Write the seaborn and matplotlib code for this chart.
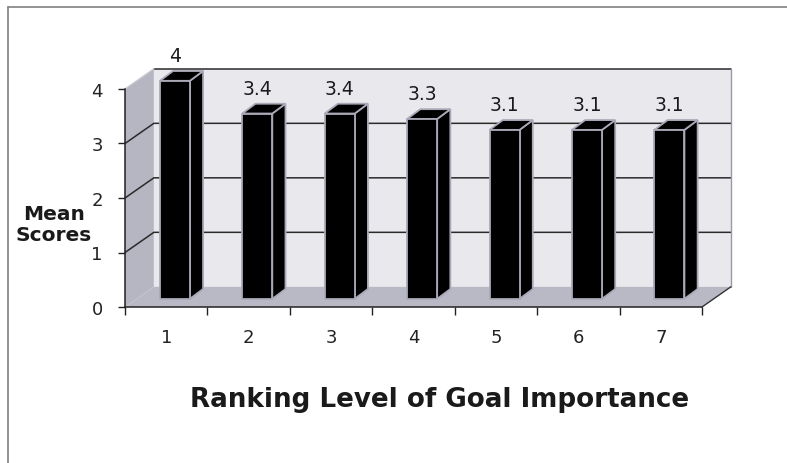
import matplotlib
matplotlib.use("Agg")
import matplotlib.pyplot as plt
import seaborn as sns
import pandas as pd
from matplotlib.patches import Polygon
from matplotlib.lines import Line2D

# chart data
levels = ["1", "2", "3", "4", "5", "6", "7"]
mean_scores = [4, 3.4, 3.4, 3.3, 3.1, 3.1, 3.1]
y_ticks = [0, 1, 2, 3, 4]

# fake 3d geometry (data units)
wall_dx, wall_dy = 0.35, 0.37      # back wall offset
bar_dx, bar_base = 0.105, 0.15     # bar front face shift
depth_dx, depth_dy = 0.16, 0.18    # bar depth

sns.set_style("white")
plt.rcParams["font.family"] = ["DejaVu Sans"]

fig = plt.figure(figsize=(7.87, 4.64), dpi=100)
ax = fig.add_axes([125 / 787, 156 / 464, 577 / 787, 218 / 464])

df = pd.DataFrame({"level": levels, "score": mean_scores})
sns.barplot(data=df, x="level", y="score", color="black", saturation=1,
            width=0.364, edgecolor="#a9a9b8", linewidth=1.3, zorder=3, ax=ax)
bars = list(ax.patches)

x0, x1 = -0.5, len(levels) - 0.5
top = max(y_ticks)
ax.set_xlim(x0, x1)
ax.set_ylim(0, top)

# walls and floor
ax.add_patch(Polygon([(x0, 0), (x0, top), (x0 + wall_dx, top + wall_dy), (x0 + wall_dx, wall_dy)],
                     closed=True, fc="#b6b6c2", ec="none", zorder=0, clip_on=False))
ax.add_patch(Polygon([(x0 + wall_dx, wall_dy), (x0 + wall_dx, top + wall_dy),
                      (x1 + wall_dx, top + wall_dy), (x1 + wall_dx, wall_dy)],
                     closed=True, fc="#e9e9ed", ec="none", zorder=0, clip_on=False))
ax.add_patch(Polygon([(x0, 0), (x1, 0), (x1 + wall_dx, wall_dy), (x0 + wall_dx, wall_dy)],
                     closed=True, fc="#b9b9c6", ec="none", zorder=0.5, clip_on=False))

# gridlines on walls
for t in y_ticks[1:-1]:
    ax.plot([x0, x0 + wall_dx, x1 + wall_dx], [t, t + wall_dy, t + wall_dy],
            color="#2a2a2a", lw=1.1, zorder=1, clip_on=False)
ax.plot([x0 + wall_dx, x1 + wall_dx], [top + wall_dy, top + wall_dy],
        color="#2a2a2a", lw=1.1, zorder=1, clip_on=False)
ax.plot([x0, x0 + wall_dx], [top, top + wall_dy], color="#c8c8d2", lw=1.0, zorder=1, clip_on=False)
ax.plot([x1 + wall_dx, x1 + wall_dx], [wall_dy, top + wall_dy], color="#9a9aa6",
        lw=1.0, zorder=1, clip_on=False)
ax.plot([x1, x1 + wall_dx], [0, wall_dy], color="#333333", lw=1.0, zorder=1, clip_on=False)

# move bars into the middle of the depth and add side / top faces
for p, v in zip(bars, mean_scores):
    p.set_x(p.get_x() + bar_dx)
    p.set_y(bar_base)
    p.set_clip_on(False)
    bx, bw, by, bh = p.get_x(), p.get_width(), p.get_y(), p.get_height()
    side = Polygon([(bx + bw, by), (bx + bw + depth_dx, by + depth_dy),
                    (bx + bw + depth_dx, by + bh + depth_dy), (bx + bw, by + bh)],
                   closed=True, fc="black", ec="#a9a9b8", lw=1.3, zorder=2.9, clip_on=False)
    cap = Polygon([(bx, by + bh), (bx + bw, by + bh), (bx + bw + depth_dx, by + bh + depth_dy),
                   (bx + depth_dx, by + bh + depth_dy)],
                  closed=True, fc="black", ec="#a9a9b8", lw=1.3, zorder=2.9, clip_on=False)
    ax.add_patch(side)
    ax.add_patch(cap)
    ax.annotate(f"{v:g}", (bx + bw / 2, by + bh), xytext=(0, 18), textcoords="offset points",
                ha="center", va="center", fontsize=13.5, color="#1a1a1a", annotation_clip=False)

# axes styling
for s in ["top", "right"]:
    ax.spines[s].set_visible(False)
for s in ["left", "bottom"]:
    ax.spines[s].set_color("#222222")
    ax.spines[s].set_linewidth(1.1)
    ax.spines[s].set_zorder(4)

ax.set_yticks(y_ticks)
ax.tick_params(axis="y", length=5, width=1, color="#222222", pad=11, labelsize=13,
               labelcolor="#222222", left=True)
ax.set_xticks(range(len(levels)))
ax.set_xticklabels(levels)
ax.set_xticks([i - 0.5 for i in range(len(levels) + 1)], minor=True)
ax.tick_params(axis="x", which="major", length=0, pad=15, labelsize=13, labelcolor="#222222")
ax.tick_params(axis="x", which="minor", length=6, width=1, color="#222222", bottom=True)
ax.set_xlabel("")
ax.set_ylabel("")

fig.text(54 / 787, 1 - 225 / 464, "Mean\nScores", ha="center", va="center",
         multialignment="center", fontsize=14.5, fontweight="bold", color="#1a1a1a",
         linespacing=1.15)
fig.text(440 / 787, 1 - 400 / 464, "Ranking Level of Goal Importance", ha="center", va="center",
         fontsize=18.8, fontweight="bold", color="#1a1a1a")

# chart border
fig.add_artist(Line2D([8 / 787, 1], [1 - 8 / 464, 1 - 8 / 464], color="#808080", lw=1.2))
fig.add_artist(Line2D([8 / 787, 8 / 787], [0, 1 - 8 / 464], color="#808080", lw=1.2))

fig.savefig("out.png", dpi=100)
